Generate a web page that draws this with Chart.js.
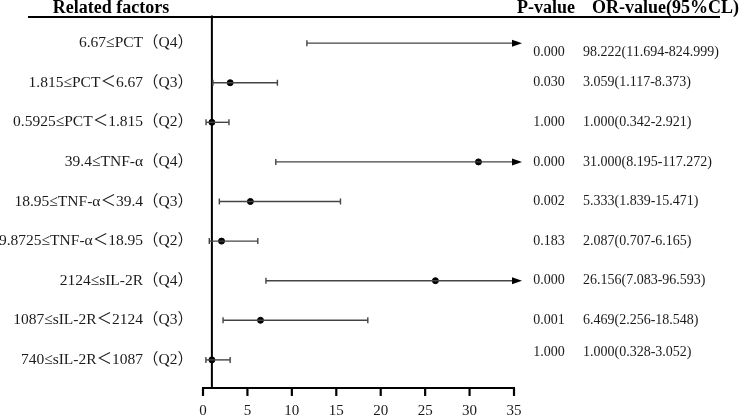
<!DOCTYPE html>
<html><head><meta charset="utf-8">
<script src="https://cdn.jsdelivr.net/npm/chart.js@4.4.1/dist/chart.umd.min.js"></script>
<style>html,body{margin:0;padding:0;background:#fff}</style>
</head><body>
<canvas id="c" width="742" height="415"></canvas>
<script>
const factors = ['6.67≤PCT（Q4）', '1.815≤PCT＜6.67（Q3）', '0.5925≤PCT＜1.815（Q2）', '39.4≤TNF-α（Q4）', '18.95≤TNF-α＜39.4（Q3）', '9.8725≤TNF-α＜18.95（Q2）', '2124≤sIL-2R（Q4）', '1087≤sIL-2R＜2124（Q3）', '740≤sIL-2R＜1087（Q2）'];
const orValues = [98.222, 3.059, 1.000, 31.000, 5.333, 2.087, 26.156, 6.469, 1.000];
const lowerCI = [11.694, 1.117, 0.342, 8.195, 1.839, 0.707, 7.083, 2.256, 0.328];
const upperCI = [824.999, 8.373, 2.921, 117.272, 15.471, 6.165, 96.593, 18.548, 3.052];
const pValues = ['0.000', '0.030', '1.000', '0.000', '0.002', '0.183', '0.000', '0.001', '1.000'];
const xTicks = [0, 5, 10, 15, 20, 25, 30, 35];
const refValue = 1;
const X_MIN = 0, X_MAX = 35;
const Y_MIN = 0.34, Y_MAX = 9.71;

const rowY = factors.map((f, i) => i + 1);
const orText = orValues.map((v, i) => v.toFixed(3) + '(' + lowerCI[i].toFixed(3) + '-' + upperCI[i].toFixed(3) + ')');

const SERIF = '"Liberation Serif", "Times New Roman", "Noto Sans CJK SC", serif';
const WHISKER = '#444';

const datasets = [];
// whisker lines
factors.forEach((f, i) => {
  datasets.push({
    type: 'scatter', showLine: true, clip: false,
    data: [{x: lowerCI[i], y: rowY[i]}, {x: Math.min(upperCI[i], X_MAX), y: rowY[i]}],
    borderColor: WHISKER, borderWidth: 1.4, pointRadius: 0
  });
});
// caps
const caps = [];
factors.forEach((f, i) => {
  caps.push({x: lowerCI[i], y: rowY[i]});
  if (upperCI[i] <= X_MAX) caps.push({x: upperCI[i], y: rowY[i]});
});
datasets.push({
  type: 'scatter', clip: false, data: caps,
  pointStyle: 'line', rotation: 90, pointRadius: 3, borderColor: WHISKER, borderWidth: 1.4
});
// reference line at OR = 1
datasets.push({
  type: 'scatter', showLine: true, clip: false,
  data: [{x: refValue, y: 0.3}, {x: refValue, y: Y_MAX}],
  borderColor: '#000', borderWidth: 2, pointRadius: 0
});
// OR points
datasets.push({
  type: 'scatter', clip: false,
  data: orValues.map((v, i) => ({x: v, y: rowY[i]})).filter(p => p.x <= X_MAX),
  pointStyle: 'circle', pointRadius: 3, backgroundColor: '#000', borderColor: '#000', borderWidth: 1
});
// outward x-axis tick marks (short vertical strokes just below the axis line)
datasets.push({
  type: 'scatter', clip: false,
  data: xTicks.map(v => ({x: v, y: Y_MAX + 0.1})),
  pointStyle: 'line', rotation: 90, pointRadius: 4, borderColor: '#000', borderWidth: 2.2
});

const decor = {
  id: 'decor',
  afterDraw(chart) {
    const ctx = chart.ctx, xs = chart.scales.x, ys = chart.scales.y, ca = chart.chartArea;
    ctx.save();
    ctx.fillStyle = '#000';
    // top rule
    ctx.fillRect(28, ca.top - 1, 692, 2);
    // headers
    ctx.font = 'bold 18px ' + SERIF;
    ctx.textBaseline = 'alphabetic';
    ctx.textAlign = 'center';
    ctx.fillText('Related factors', 111, 13);
    ctx.fillText('P-value', 546, 13);
    ctx.textAlign = 'left';
    ctx.fillText('OR-value(95%CL)', 592, 13);
    // arrows for CIs beyond axis max
    factors.forEach((f, i) => {
      if (upperCI[i] > X_MAX) {
        const px = xs.getPixelForValue(X_MAX), py = ys.getPixelForValue(rowY[i]);
        ctx.beginPath();
        ctx.moveTo(px - 2, py - 3.5); ctx.lineTo(px + 8, py); ctx.lineTo(px - 2, py + 3.5);
        ctx.closePath(); ctx.fill();
      }
    });
    // left labels
    ctx.fillStyle = '#1a1a1a';
    ctx.font = '15.5px ' + SERIF;
    ctx.textAlign = 'right'; ctx.textBaseline = 'middle';
    factors.forEach((f, i) => ctx.fillText(f, ca.left - 10, ys.getPixelForValue(rowY[i])));
    // right columns
    const shift = {0: 9, 8: -8};
    ctx.font = '14px ' + SERIF;
    factors.forEach((f, i) => {
      const py = ys.getPixelForValue(rowY[i]) + (shift[i] || 0);
      ctx.textAlign = 'center';
      ctx.fillText(pValues[i], 549, py);
      ctx.textAlign = 'left';
      ctx.fillText(orText[i], 583, py);
    });
    ctx.restore();
  }
};

new Chart(document.getElementById('c'), {
  type: 'scatter',
  data: {datasets},
  options: {
    responsive: false, animation: false, devicePixelRatio: 1,
    layout: {padding: {left: 203, right: 228, top: 17, bottom: 0}},
    plugins: {legend: {display: false}, tooltip: {enabled: false}},
    scales: {
      x: {
        type: 'linear', min: X_MIN, max: X_MAX,
        afterBuildTicks: s => { s.ticks = xTicks.map(v => ({value: v})); },
        afterFit: s => { s.height = 27; },
        grid: {display: false, drawOnChartArea: false, drawTicks: true, tickLength: 7},
        border: {display: true, color: '#000', width: 2},
        ticks: {padding: 7, color: '#1a1a1a', font: {family: SERIF, size: 15}, maxRotation: 0, autoSkip: false}
      },
      y: {type: 'linear', reverse: true, min: Y_MIN, max: Y_MAX, display: false}
    }
  },
  plugins: [decor]
});
</script>
</body></html>
